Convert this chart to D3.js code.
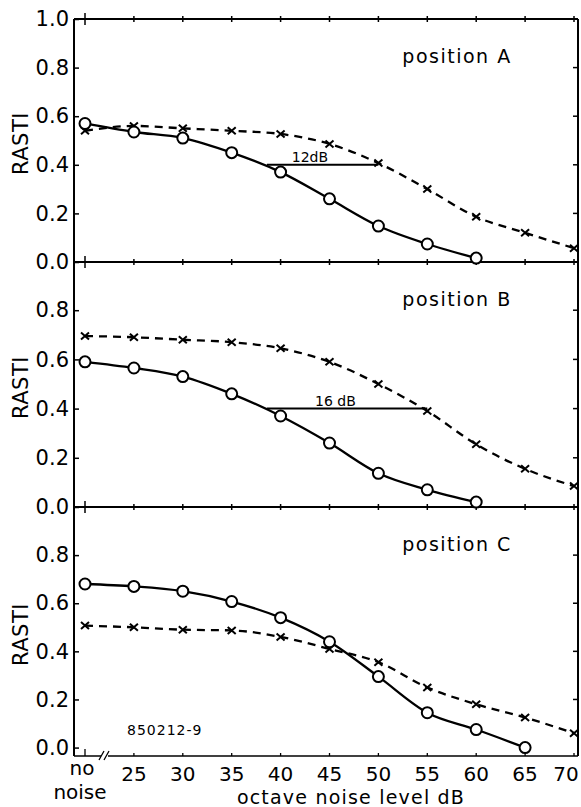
<!DOCTYPE html>
<html>
<head>
<meta charset="utf-8">
<script src="https://cdn.jsdelivr.net/npm/d3@7"></script>
<style>
  body { margin: 0; background: #fff; }
  text { font-family: "DejaVu Sans", sans-serif; fill: #000; }
</style>
</head>
<body>
<svg width="581" height="807"></svg>
<script>
// noise levels, 20 stands for "no noise"
var levels = [20, 25, 30, 35, 40, 45, 50, 55, 60, 65, 70];
var xTickLabels = ["", "25", "30", "35", "40", "45", "50", "55", "60", "65", "70"];
var yTicksTop = [0, 0.2, 0.4, 0.6, 0.8, 1.0];
var yTicksLow = [0, 0.2, 0.4, 0.6, 0.8];

var panelNames = ["position A", "position B", "position C"];

// o-o solid curves
var circA = [0.57, 0.535, 0.51, 0.45, 0.37, 0.26, 0.148, 0.074, 0.016];
var circB = [0.59, 0.565, 0.53, 0.46, 0.37, 0.26, 0.137, 0.07, 0.02];
var circC = [0.68, 0.67, 0.65, 0.607, 0.54, 0.44, 0.295, 0.145, 0.075, 0.0];
// x-x dashed curves
var crossA = [0.54, 0.56, 0.55, 0.54, 0.527, 0.486, 0.407, 0.30, 0.186, 0.12, 0.057];
var crossB = [0.695, 0.69, 0.68, 0.67, 0.645, 0.59, 0.50, 0.39, 0.255, 0.155, 0.085];
var crossC = [0.507, 0.50, 0.49, 0.487, 0.46, 0.41, 0.355, 0.25, 0.18, 0.125, 0.06];

// difference markers: [from dB, to dB, RASTI, label, label pos dB]
var diffA = [38.6, 50, 0.4, "12dB", 43];
var diffB = [38.6, 55, 0.4, "16 dB", 45.6];

var svg = d3.select("svg");
var left = 74, right = 578;

var sx = d3.scaleLinear().domain([20, 70]).range([85, 574]);

var panels = [
    { name: panelNames[0], circ: circA, cross: crossA, diff: diffA, ticks: yTicksTop,
      y: d3.scaleLinear().domain([0, 1]).range([262, 19]), top: 19, bottom: 262 },
    { name: panelNames[1], circ: circB, cross: crossB, diff: diffB, ticks: yTicksLow,
      y: d3.scaleLinear().domain([0, 1]).range([507, 261]), top: 262, bottom: 507 },
    { name: panelNames[2], circ: circC, cross: crossC, diff: null, ticks: yTicksLow,
      y: d3.scaleLinear().domain([-0.035, 1]).range([756, 507]), top: 507, bottom: 756 }
];

var frame = svg.append("g").attr("stroke", "#000").attr("fill", "none");

// vertical frame lines
frame.append("line").attr("x1", left).attr("x2", left).attr("y1", 19).attr("y2", 756).attr("stroke-width", 2);
frame.append("line").attr("x1", right).attr("x2", right).attr("y1", 19).attr("y2", 756).attr("stroke-width", 2);

// horizontal lines (top, dividers)
[19, 262, 507].forEach(function(yy) {
    frame.append("line").attr("x1", left).attr("x2", right).attr("y1", yy).attr("y2", yy).attr("stroke-width", 2);
    frame.selectAll(null).data(levels).enter().append("line")
        .attr("x1", d => sx(d)).attr("x2", d => sx(d))
        .attr("y1", d => yy - (d == 20 ? 6 : 3)).attr("y2", d => yy + (d == 20 ? 6 : 3))
        .attr("stroke-width", 1.5);
});

// bottom axis with break
frame.append("line").attr("x1", left).attr("x2", 101).attr("y1", 756).attr("y2", 756).attr("stroke-width", 1.5);
frame.append("line").attr("x1", 108).attr("x2", right).attr("y1", 756).attr("y2", 756).attr("stroke-width", 1.5);
frame.append("path").attr("d", "M99,760L104,751M104,760L109,751").attr("stroke-width", 1.3);
frame.selectAll(null).data(levels).enter().append("line")
    .attr("x1", d => sx(d)).attr("x2", d => sx(d))
    .attr("y1", d => 756 - (d == 20 ? 7 : 3)).attr("y2", 756)
    .attr("stroke-width", 1.3);

// x tick labels
svg.append("g").selectAll("text").data(levels.slice(1)).enter().append("text")
    .attr("x", d => Math.min(sx(d), 566)).attr("y", 781)
    .attr("text-anchor", "middle").attr("font-size", 20)
    .text((d, i) => xTickLabels[i + 1]);
svg.append("text").attr("x", sx(20) - 3).attr("y", 775).attr("text-anchor", "middle")
    .attr("font-size", 20).text("no");
svg.append("text").attr("x", 80).attr("y", 799).attr("text-anchor", "middle")
    .attr("font-size", 20).text("noise");
svg.append("text").attr("x", 351).attr("y", 804).attr("text-anchor", "middle")
    .attr("font-size", 19).attr("letter-spacing", 1.2).text("octave noise level dB");

var line = d3.line().x(d => sx(d[0])).y(d => d[1]).curve(d3.curveMonotoneX);

panels.forEach(function(p) {
    var g = svg.append("g");

    // y axis, inward ticks
    g.append("g").attr("transform", "translate(" + left + ",0)")
        .call(d3.axisLeft(p.y).tickValues(p.ticks).tickFormat(d3.format(".1f"))
              .tickSizeInner(-5).tickSizeOuter(0).tickPadding(5))
        .call(a => a.select(".domain").remove())
        .call(a => a.selectAll("line").attr("stroke-width", 1.5))
        .call(a => a.selectAll("text").attr("font-size", 21).attr("font-family", "DejaVu Sans"));
    // right side ticks
    g.append("g").attr("stroke", "#000").attr("stroke-width", 1.5)
        .selectAll("line").data(p.ticks.filter(t => t > 0 && t < 1)).enter().append("line")
        .attr("x1", right - 5).attr("x2", right)
        .attr("y1", d => p.y(d)).attr("y2", d => p.y(d));

    g.append("text")
        .attr("transform", "translate(28," + ((p.top + p.bottom) / 2 + 3) + ") rotate(-90)")
        .attr("text-anchor", "middle").attr("font-size", 21).attr("letter-spacing", 0.5)
        .text("RASTI");

    g.append("text").attr("x", 457).attr("y", p.top + 44)
        .attr("text-anchor", "middle").attr("font-size", 19).attr("letter-spacing", 1.5)
        .text(p.name);

    var cross = p.cross.map((v, i) => [levels[i], p.y(v)]);
    var circ = p.circ.map((v, i) => [levels[i], p.y(v)]);

    g.append("path").attr("d", line(cross)).attr("fill", "none")
        .attr("stroke", "#000").attr("stroke-width", 2.3).attr("stroke-dasharray", "8,6");
    g.append("path").attr("d", line(circ)).attr("fill", "none")
        .attr("stroke", "#000").attr("stroke-width", 2.3);

    if (p.diff) {
        var dy = p.y(p.diff[2]);
        g.append("line").attr("x1", sx(p.diff[0])).attr("x2", sx(p.diff[1]))
            .attr("y1", dy).attr("y2", dy).attr("stroke", "#000").attr("stroke-width", 2);
        g.append("text").attr("x", sx(p.diff[4])).attr("y", dy - 3)
            .attr("text-anchor", "middle").attr("font-size", 14).text(p.diff[3]);
    }

    g.selectAll(".xm").data(cross).enter().append("path")
        .attr("d", d => "M" + (sx(d[0]) - 4) + "," + (d[1] - 3.5) + "L" + (sx(d[0]) + 4) + "," + (d[1] + 3.5) +
                        "M" + (sx(d[0]) - 4) + "," + (d[1] + 3.5) + "L" + (sx(d[0]) + 4) + "," + (d[1] - 3.5))
        .attr("stroke", "#000").attr("stroke-width", 2);

    g.selectAll("circle").data(circ).enter().append("circle")
        .attr("cx", d => sx(d[0])).attr("cy", d => d[1]).attr("r", 5.5)
        .attr("fill", "#fff").attr("stroke", "#000").attr("stroke-width", 2);
});

svg.append("text").attr("x", 127).attr("y", 735).attr("font-size", 14)
    .attr("letter-spacing", 1).text("850212-9");
</script>
</body>
</html>
